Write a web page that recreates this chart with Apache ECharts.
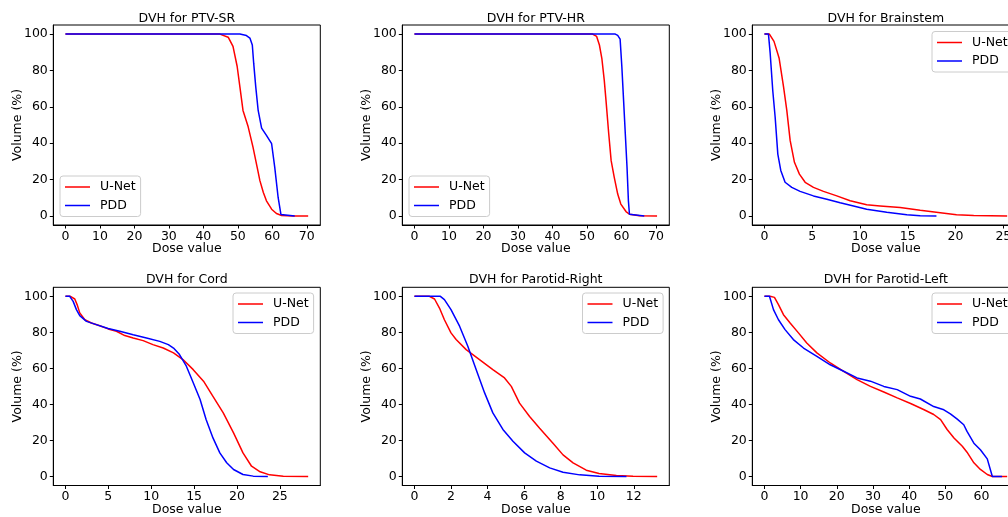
<!DOCTYPE html>
<html>
<head>
<meta charset="utf-8">
<script src="https://cdn.jsdelivr.net/npm/echarts@6/dist/echarts.min.js"></script>
<style>
html,body{margin:0;padding:0;background:#fff;overflow:hidden;}
#c{width:1024px;height:517px;}
</style>
</head>
<body>
<div id="c"></div>
<script>
// ---- tick labels ----
const yTicks = [0, 20, 40, 60, 80, 100];
const xTicksPTV = [0, 10, 20, 30, 40, 50, 60, 70];
const xTicksBrainstem = [0, 5, 10, 15, 20, 25];
const xTicksCord = [0, 5, 10, 15, 20, 25];
const xTicksParotidR = [0, 2, 4, 6, 8, 10, 12];
const xTicksParotidL = [0, 10, 20, 30, 40, 50, 60];
const seriesNames = ['U-Net', 'PDD'];
const titles = ['DVH for PTV-SR', 'DVH for PTV-HR', 'DVH for Brainstem', 'DVH for Cord', 'DVH for Parotid-Right', 'DVH for Parotid-Left'];

// ---- data: [dose, volume %] ----
const ptvSrUnet = [[0,100],[44.8,100],[47.2,98.3],[48.6,93.2],[49.8,82.3],[50.6,71],[51.5,58],[53,49],[54.4,37.8],[55.6,26.8],[56.4,19.4],[57.4,12.9],[58.3,8.3],[59.8,3.7],[61.2,1.3],[62.7,0.2],[66,0],[70.4,0]];
const ptvSrPdd = [[0,100],[50.6,100],[52.5,99.2],[53.5,97.8],[54.2,94],[54.6,84],[55.2,71],[55.9,58],[56.9,48.3],[58.3,44.3],[59.8,39.7],[60.7,26.8],[61.7,10],[62.5,0.8],[63,0.2],[66.5,0]];
const ptvHrUnet = [[0,100],[51.6,100],[52.8,98.7],[53.6,94],[54.3,86.7],[55,74.7],[55.5,63.7],[56.3,45.2],[57,30.4],[57.9,21.2],[58.9,12],[59.8,6.5],[61.3,2.4],[62.3,0.9],[65.2,0.1],[70.3,0]];
const ptvHrPdd = [[0,100],[58.2,100],[58.9,99.3],[59.6,97.2],[60.1,82],[60.6,63.7],[61.1,45.2],[61.6,26.8],[62,8.3],[62.3,0.9],[62.7,0.2],[66.6,0]];
const brainstemUnet = [[0,100],[0.52,100],[1.0,96],[1.54,86.7],[2.0,71],[2.34,58],[2.69,41.5],[3.14,29.5],[3.66,23],[4.26,18.5],[5.13,15.7],[6.18,13.5],[7.57,11],[8.97,8.3],[10.7,6.1],[12.1,5.5],[14.2,4.6],[16.3,3.1],[18.4,1.8],[20.1,0.7],[21.9,0.2],[25.4,0]];
const brainstemPdd = [[0,100],[0.42,100],[0.6,89.5],[0.87,69],[1.12,54.4],[1.4,34],[1.71,25],[2.16,18.5],[2.86,15.7],[3.73,13.5],[5.13,11],[6.53,9.2],[7.92,7.2],[9.32,5.5],[10.7,3.7],[12.8,2],[14.9,0.7],[16.3,0.1],[18.0,0]];
const cordUnet = [[0,100],[0.58,100],[1.09,98.5],[1.36,95.4],[1.67,90.8],[2.26,87],[3.03,85.2],[4.0,83.7],[4.98,81.9],[5.95,80.6],[6.92,78.2],[7.9,76.9],[9.06,75.4],[10.2,73.2],[11.4,71.3],[12.6,68.6],[13.7,64.9],[14.9,59.3],[16.1,52.9],[17.2,44.5],[18.4,35.3],[19.6,24.2],[20.7,13.1],[21.7,5.7],[22.7,2.6],[23.8,0.9],[25.4,0.1],[28.3,0]];
const cordPdd = [[0,100],[0.5,100],[0.9,97.2],[1.28,92.6],[1.67,89.3],[2.45,86.1],[3.6,84.3],[4.98,82.1],[6.34,80.6],[7.9,78.7],[9.45,76.9],[11.0,75],[12.0,73.2],[12.6,71.3],[13.3,67.7],[14.1,61.2],[14.9,52],[15.7,42.7],[16.4,31.6],[17.2,21.4],[18.0,13.1],[18.8,7.6],[19.6,3.9],[20.7,1.1],[21.9,0.2],[23.6,0]];
const parotidRUnet = [[0,100],[0.82,100],[1.1,98.5],[1.37,93.5],[1.64,87],[2.0,79.7],[2.28,76],[2.83,70.4],[3.56,64.9],[4.29,59.3],[4.93,54.7],[5.3,50],[5.75,40.7],[6.3,33.3],[6.85,26.8],[7.58,18.5],[8.13,12],[8.68,7.6],[9.4,3.5],[10.1,1.7],[11.05,0.6],[11.96,0.1],[13.28,0]];
const parotidRPdd = [[0,100],[1.42,100],[1.64,98.2],[2.0,92.6],[2.47,83.4],[2.92,72.3],[3.38,59.3],[3.84,46.4],[4.29,35.3],[4.84,26.1],[5.39,19.6],[6.03,13.1],[6.67,8.5],[7.4,4.8],[8.13,2.4],[9.04,0.9],[10.1,0.2],[11.6,0]];
const parotidLUnet = [[0,100],[1.57,100],[2.77,99.4],[3.88,95.4],[5.26,89.8],[7.1,85.2],[9.4,79.7],[11.7,74.1],[14.5,68.6],[18.2,63],[21.9,58.4],[25.6,53.8],[29.3,50],[33,46.9],[36.7,43.6],[40.4,40.5],[44,37.2],[46.8,34.4],[48.7,31.6],[50.5,26.1],[52.4,21.4],[54.7,16.8],[56,13.5],[57.9,7.6],[59.7,3.9],[61.6,1.1],[63,0],[67.1,0]];
const parotidLPdd = [[0,100],[1.39,100],[2.5,92.6],[3.88,87],[5.7,81.5],[8.0,76],[10.8,71.3],[14.5,66.7],[18.2,62],[21.9,58.4],[25.6,54.7],[29.3,52.9],[33,50],[36.7,48.2],[40.4,44.5],[43.1,43],[46.8,38.8],[49.6,37],[51.4,34.8],[53.3,31.8],[55.1,28.7],[56,25],[57.9,18.5],[59.7,14.8],[61.6,9.8],[63,0],[65.7,0]];

// ---- layout (style only) ----
const FONT = 'DejaVu Sans';
const FS = 12.5;
const panels = [
  {unet: ptvSrUnet, pdd: ptvSrPdd, ticks: xTicksPTV, xr: [-3.52, 73.92], left: 53.3, top: 25, h: 200, leg: {left: 60, top: 176}},
  {unet: ptvHrUnet, pdd: ptvHrPdd, ticks: xTicksPTV, xr: [-3.52, 73.85], left: 402.3, top: 25, h: 200, leg: {left: 409, top: 176}},
  {unet: brainstemUnet, pdd: brainstemPdd, ticks: xTicksBrainstem, xr: [-1.27, 26.67], left: 752.3, top: 25, h: 200, leg: {left: 932, top: 31.5}},
  {unet: cordUnet, pdd: cordPdd, ticks: xTicksCord, xr: [-1.415, 29.715], left: 53.3, top: 287.3, h: 198.7, leg: {left: 233, top: 293}},
  {unet: parotidRUnet, pdd: parotidRPdd, ticks: xTicksParotidR, xr: [-0.664, 13.944], left: 402.3, top: 287.3, h: 198.7, leg: {left: 582.5, top: 293}},
  {unet: parotidLUnet, pdd: parotidLPdd, ticks: xTicksParotidL, xr: [-3.355, 70.455], left: 752.3, top: 287.3, h: 198.7, leg: {left: 932, top: 293}}
];
const W = 267;
const colors = ['#ff0000', '#0000ff'];

const grid = [], xAxis = [], yAxis = [], series = [], legend = [], title = [];
panels.forEach((p, i) => {
  grid.push({left: p.left, top: p.top, width: W, height: p.h, show: true, borderColor: '#000', borderWidth: 1, backgroundColor: 'transparent', containLabel: false});
  const tick = {show: true, inside: false, length: 3.5, lineStyle: {color: '#000', width: 1}};
  const lbl = {color: '#000', fontFamily: FONT, fontSize: FS};
  xAxis.push({
    type: 'value', gridIndex: i, min: p.xr[0], max: p.xr[1], position: 'bottom',
    axisLine: {show: true, onZero: false, lineStyle: {color: '#000', width: 1}}, splitLine: {show: false},
    axisTick: Object.assign({customValues: p.ticks}, tick),
    axisLabel: Object.assign({customValues: p.ticks, margin: 5, formatter: v => String(v)}, lbl),
    name: 'Dose value', nameLocation: 'middle', nameGap: 17.5, nameMoveOverlap: false,
    nameTextStyle: {color: '#000', fontFamily: FONT, fontSize: FS}
  });
  yAxis.push({
    type: 'value', gridIndex: i, min: -5, max: 105, position: 'left',
    axisLine: {show: true, onZero: false, lineStyle: {color: '#000', width: 1}}, splitLine: {show: false},
    axisTick: Object.assign({customValues: yTicks}, tick),
    axisLabel: Object.assign({customValues: yTicks, margin: 5.5, formatter: v => String(v)}, lbl),
    name: 'Volume (%)', nameLocation: 'middle', nameGap: 29.5, nameMoveOverlap: false,
    nameTextStyle: {color: '#000', fontFamily: FONT, fontSize: FS}
  });
  [p.unet, p.pdd].forEach((d, k) => {
    series.push({
      type: 'line', name: seriesNames[k], xAxisIndex: i, yAxisIndex: i, data: d,
      showSymbol: false, symbol: 'none', smooth: false, animation: false,
      lineStyle: {color: colors[k], width: 1.5}, itemStyle: {color: colors[k]},
      z: 2 + k
    });
  });
  legend.push({
    data: seriesNames, orient: 'vertical', left: p.leg.left, top: p.leg.top,
    icon: 'rect', itemWidth: 25, itemHeight: 1.5, itemGap: 4.5,
    padding: [4, 5, 4, 5],
    backgroundColor: 'rgba(255,255,255,0.8)', borderColor: '#cccccc', borderWidth: 1, borderRadius: 3,
    textStyle: {color: '#000', fontFamily: FONT, fontSize: FS, lineHeight: 14, padding: [0, 0, 0, 5]},
    selectedMode: false
  });
  title.push({
    text: titles[i], left: p.left + W / 2, top: i < 3 ? 12.5 : 273, textAlign: 'center', padding: 0,
    textStyle: {color: '#000', fontFamily: FONT, fontSize: FS, fontWeight: 'normal'}
  });
});

const chart = echarts.init(document.getElementById('c'), null, {renderer: 'canvas'});
chart.setOption({animation: false, backgroundColor: '#fff', title, grid, xAxis, yAxis, legend, series});
</script>
</body>
</html>
